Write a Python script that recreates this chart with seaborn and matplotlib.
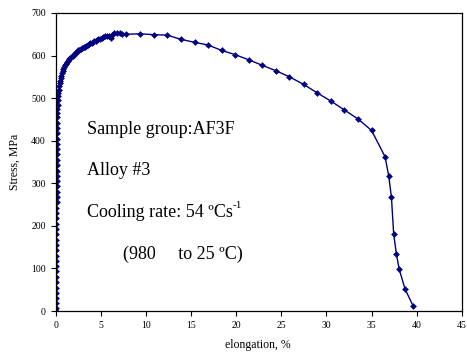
#Stress-strain curve, sample group AF3F

import numpy as np
import pandas as pd
import matplotlib
matplotlib.use('Agg')
import matplotlib.pyplot as plt
import seaborn as sns

#elongation (%) and stress (MPa)
elongation = [0.00, 0.01, 0.01, 0.02, 0.02, 0.03, 0.03, 0.04, 0.04, 0.05,
              0.05, 0.06, 0.06, 0.07, 0.07, 0.08, 0.08, 0.09, 0.09, 0.10,
              0.10, 0.11, 0.11, 0.12, 0.12, 0.13, 0.13, 0.14, 0.14, 0.15,
              0.15, 0.16, 0.16, 0.17, 0.17, 0.18, 0.18,
              0.19, 0.20, 0.21, 0.23, 0.25, 0.28, 0.31, 0.35, 0.40, 0.45,
              0.50, 0.56, 0.62, 0.70, 0.78, 0.86, 0.95, 1.05, 1.15, 1.25,
              1.38, 1.50, 1.62, 1.75, 1.90, 2.05, 2.20, 2.35, 2.50, 2.65,
              2.80, 2.95, 3.10, 3.25, 3.40, 3.55, 3.70, 3.85, 4.00, 4.15,
              4.30, 4.45, 4.60, 4.75, 4.90, 5.10, 5.30, 5.50, 5.70, 5.90,
              6.10, 6.30, 6.50, 6.80, 7.10, 7.40, 7.80,
              9.3, 10.9, 12.35, 13.9, 15.4, 16.85, 18.4, 19.9, 21.4, 22.9,
              24.45, 25.9, 27.5, 29.0, 30.5, 32.0, 33.5, 35.0, 36.5, 36.9,
              37.2, 37.45, 37.75, 38.05, 38.7, 39.6]
stress = [0, 8, 18, 30, 42, 55, 68, 80, 93, 105,
          118, 130, 143, 156, 168, 180, 193, 205, 218, 230,
          243, 256, 268, 280, 293, 305, 318, 330, 342, 355,
          368, 380, 392, 405, 418, 430, 442,
          455, 465, 475, 485, 495, 505, 512, 520, 528, 535,
          541, 547, 553, 558, 563, 568, 572, 577, 581, 585,
          588, 591, 594, 597, 600, 602, 605, 609, 612, 613,
          615, 617, 619, 621, 623, 625, 627, 629, 630, 632,
          633, 635, 636, 638, 640, 642, 644, 645, 645, 646,
          642, 648, 652, 653, 652, 651, 650,
          651, 649, 648, 638, 631, 625, 612, 602, 590, 577,
          564, 550, 532, 512, 493, 472, 451, 424, 362, 317,
          267, 180, 134, 99, 52, 12]

x_ticks = [0, 5, 10, 15, 20, 25, 30, 35, 40, 45]
y_ticks = [0, 100, 200, 300, 400, 500, 600, 700]

df = pd.DataFrame({'elongation': elongation, 'stress': stress})

sns.set_style('ticks')
plt.rcParams['font.family'] = ['Liberation Serif', 'DejaVu Serif']
plt.rcParams['text.color'] = 'black'
plt.rcParams['axes.labelcolor'] = 'black'

fig = plt.figure(figsize=(4.67, 3.6), dpi=100)
ax = fig.add_axes([0.119, 0.136, 0.870, 0.828])

sns.lineplot(data=df, x='elongation', y='stress', sort=False, estimator=None,
             color='#000080', linewidth=1.0, marker='D', markersize=3,
             markeredgewidth=0.4, markeredgecolor='#000080', ax=ax)

ax.set_xlim(0, 45)
ax.set_ylim(0, 700)
ax.set_xticks(x_ticks)
ax.set_yticks(y_ticks)
ax.tick_params(labelsize=7, length=3.5, width=0.8, direction='out', colors='black')
for s in ax.spines.values():
    s.set_visible(True)
    s.set_color('black')
    s.set_linewidth(0.9)

ax.set_xlabel('elongation, %', fontsize=8.5)
ax.set_ylabel('Stress, MPa', fontsize=8.5)
ax.xaxis.set_label_coords(0.497, -0.095)
ax.yaxis.set_label_coords(-0.085, 0.5)

#annotation text
ax.text(3.5, 427, 'Sample group:AF3F', fontsize=13, va='center')
ax.text(3.5, 330, 'Alloy #3', fontsize=13, va='center')
t = ax.text(3.5, 232, 'Cooling rate: 54 ºCs', fontsize=13, va='center')
ax.annotate('-1', xy=(1.0, 0.62), xycoords=t, fontsize=8, va='bottom', ha='left')
ax.text(7.5, 133, '(980     to 25 ºC)', fontsize=13, va='center')

plt.savefig('out.png', dpi=100)
